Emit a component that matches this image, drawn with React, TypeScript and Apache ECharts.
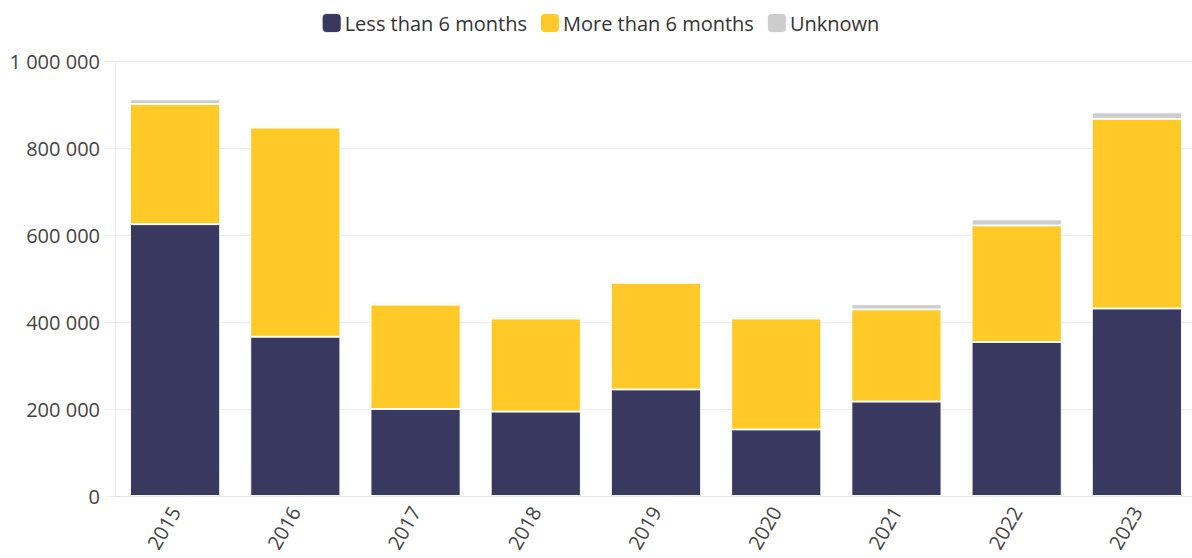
import React, { useEffect, useRef } from "react";
import * as echarts from "echarts";

const years = ["2015", "2016", "2017", "2018", "2019", "2020", "2021", "2022", "2023"];
const lessThan6 = [625000, 366000, 200000, 194000, 245000, 153000, 217000, 354000, 431000];
const moreThan6 = [276000, 481000, 240000, 214000, 245000, 255000, 212000, 268000, 436000];
const unknown = [11000, 1000, 4000, 4000, 2000, 4000, 12000, 14000, 15000];
const seriesNames = ["Less than 6 months", "More than 6 months", "Unknown"];
const colors = ["#23234f", "#ffc40f", "#c8c8c8"];

const FONT = "'Open Sans', 'Noto Sans', sans-serif";

function fmt(v: number): string {
  return String(v).replace(/\B(?=(\d{3})+(?!\d))/g, " ");
}

export default function App() {
  const ref = useRef<HTMLDivElement>(null);
  useEffect(() => {
    if (!ref.current) return;
    const chart = echarts.init(ref.current, null, { renderer: "svg" });
    const data = [lessThan6, moreThan6, unknown];
    chart.setOption({
      animation: false,
      textStyle: { fontFamily: FONT },
      legend: {
        top: 7,
        left: "center",
        itemWidth: 20,
        itemHeight: 20,
        itemGap: 12,
        icon: "roundRect",
        textStyle: { fontSize: 20, color: "#333", fontFamily: FONT, padding: [0, 0, 0, -2] },
        data: seriesNames,
      },
      grid: { left: 115, right: 3, top: 61, bottom: 62, containLabel: false },
      xAxis: {
        type: "category",
        data: years,
        axisLine: { lineStyle: { color: "#e6e6e6" } },
        axisTick: { alignWithLabel: true, length: 7, lineStyle: { color: "#e6e6e6" } },
        axisLabel: { rotate: 60, fontSize: 20, color: "#444", margin: 12, fontFamily: FONT },
      },
      yAxis: {
        type: "value",
        min: 0,
        max: 1000000,
        interval: 200000,
        axisLine: { show: true, lineStyle: { color: "#eeeeee" } },
        axisTick: { show: true, length: 10, lineStyle: { color: "#eeeeee" } },
        splitLine: { lineStyle: { color: "#eeeeee" } },
        axisLabel: { fontSize: 20, color: "#444", margin: 15, fontFamily: FONT, formatter: (v: number) => fmt(v) },
      },
      series: seriesNames.map((name, i) => ({
        name,
        type: "bar",
        stack: "total",
        barCategoryGap: "25%",
        data: data[i],
        itemStyle: { color: colors[i], opacity: 0.9, borderColor: "#ffffff", borderWidth: 1 },
        emphasis: { disabled: true },
      })),
    });
    return () => chart.dispose();
  }, []);
  return (
    <div
      ref={ref}
      style={{ position: "fixed", left: 0, top: 0, width: 1200, height: 558, background: "#fff" }}
    />
  );
}
